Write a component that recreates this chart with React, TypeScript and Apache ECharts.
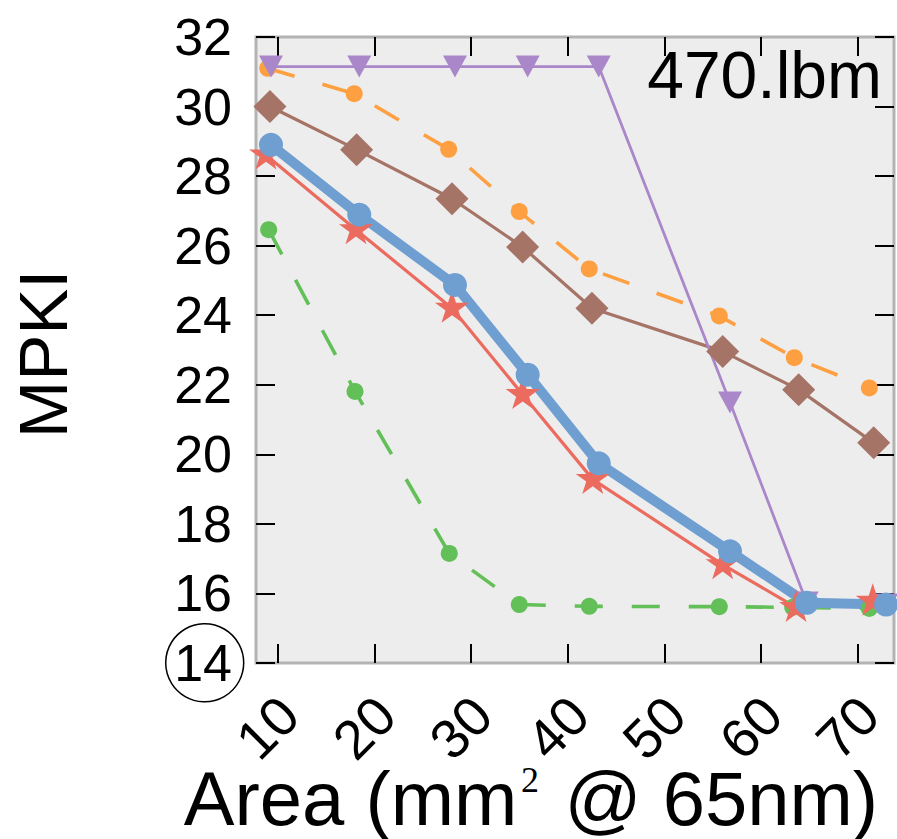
import React, { useEffect, useRef } from "react";
import * as echarts from "echarts";

// ---- data ----
const xTickValues = [10, 20, 30, 40, 50, 60, 70];
const yMin = 14;
const yMax = 32;

const purpleX = [9.31, 18.44, 28.34, 35.86, 43.21, 56.79, 64.72, 72.93];
const purpleY = [31.15, 31.15, 31.15, 31.15, 31.15, 21.49, 15.74, 15.68];

const blueX = [9.31, 18.44, 28.34, 35.86, 43.21, 56.79, 64.72, 72.93];
const blueY = [28.9, 26.89, 24.87, 22.29, 19.74, 17.21, 15.73, 15.68];

const redX = [8.79, 18.1, 28.03, 35.34, 42.59, 56.03, 63.62, 71.55];
const redY = [28.61, 26.46, 24.2, 21.72, 19.28, 16.83, 15.6, 15.78];

const brownX = [9.2, 18.17, 28.03, 35.34, 42.51, 56.03, 63.89, 71.65];
const brownY = [30.0, 28.76, 27.35, 25.96, 24.2, 22.96, 21.86, 20.33];

const orangeX = [8.97, 17.92, 27.69, 34.99, 42.23, 55.68, 63.44, 71.2];
const orangeY = [31.1, 30.37, 28.77, 26.98, 25.33, 23.98, 22.78, 21.91];

const greenX = [9.07, 18.0, 27.75, 34.99, 42.23, 55.68, 63.27, 71.2];
const greenY = [26.46, 21.81, 17.15, 15.68, 15.63, 15.62, 15.6, 15.57];

const benchmarkLabel = "470.lbm";
const yTitle = "MPKI";
const xTitleBefore = "Area (mm";
const xTitleSup = "2";
const xTitleAfter = " @ 65nm)";

// ---- helpers ----
const zip = (xs: number[], ys: number[]) => xs.map((x, i) => [x, ys[i]]);

function starPath(): string {
  const R = 50;
  const r = R * 0.381966;
  const pts: string[] = [];
  for (let k = 0; k < 10; k++) {
    const rad = k % 2 === 0 ? R : r;
    const a = -Math.PI / 2 + (k * Math.PI) / 5;
    const x = 60 + rad * Math.cos(a);
    const y = 60 + rad * Math.sin(a);
    pts.push(`${k === 0 ? "M" : "L"}${x.toFixed(3)} ${y.toFixed(3)}`);
  }
  return "path://" + pts.join(" ") + " Z";
}

const FONT = "'Liberation Sans', Arial, Helvetica, sans-serif";
const SERIF = "'Liberation Serif', 'DejaVu Serif', serif";
const X_MIN = 7.76;
const X_MAX = 73.75;
const LABEL_SHIFT = 1.19; // rotated labels sit a little right of their ticks
const DASH = [28, 29];

export default function App() {
  const ref = useRef<HTMLDivElement>(null);

  useEffect(() => {
    if (!ref.current) return;
    const chart = echarts.init(ref.current, null, { renderer: "svg" });

    const tickStyle = { color: "#000", width: 2 };

    const option: any = {
      animation: false,
      backgroundColor: "#ffffff",
      grid: {
        left: 256,
        top: 37,
        width: 638,
        height: 626,
        show: true,
        backgroundColor: "#ededed",
        borderColor: "#b3b3b3",
        borderWidth: 3,
      },
      xAxis: [
        {
          type: "value",
          position: "bottom",
          min: X_MIN,
          max: X_MAX,
          splitLine: { show: false },
          axisLine: { show: false },
          axisTick: {
            show: true,
            inside: true,
            length: 19,
            lineStyle: tickStyle,
            customValues: xTickValues,
          },
          axisLabel: { show: false },
        },
        {
          type: "value",
          position: "top",
          min: X_MIN,
          max: X_MAX,
          splitLine: { show: false },
          axisLine: { show: false },
          axisTick: {
            show: true,
            inside: true,
            length: 19,
            lineStyle: tickStyle,
            customValues: xTickValues,
          },
          axisLabel: { show: false },
        },
        {
          type: "value",
          position: "bottom",
          offset: 0,
          min: X_MIN - LABEL_SHIFT,
          max: X_MAX - LABEL_SHIFT,
          splitLine: { show: false },
          axisLine: { show: false },
          axisTick: { show: false },
          axisLabel: {
            show: true,
            customValues: xTickValues,
            rotate: 45,
            margin: 43,
            fontSize: 55,
            fontFamily: FONT,
            color: "#000",
          },
        },
      ],
      yAxis: [
        {
          type: "value",
          position: "left",
          min: yMin,
          max: yMax,
          interval: 2,
          splitLine: { show: false },
          axisLine: { show: false },
          axisTick: { show: true, inside: true, length: 19, lineStyle: tickStyle },
          axisLabel: {
            show: true,
            margin: 24,
            padding: [0, 0, 8, 0],
            fontSize: 52,
            fontFamily: FONT,
            color: "#000",
          },
        },
        {
          type: "value",
          position: "right",
          min: yMin,
          max: yMax,
          interval: 2,
          splitLine: { show: false },
          axisLine: { show: false },
          axisTick: { show: true, inside: true, length: 19, lineStyle: tickStyle },
          axisLabel: { show: false },
        },
      ],
      series: [
        {
          name: "green",
          type: "line",
          data: zip(greenX, greenY),
          symbol: "circle",
          symbolSize: 17,
          showAllSymbol: true,
          lineStyle: { color: "#63bf58", width: 3.6, type: DASH },
          itemStyle: { color: "#63bf58" },
        },
        {
          name: "orange",
          type: "line",
          data: zip(orangeX, orangeY),
          symbol: "circle",
          symbolSize: 17,
          showAllSymbol: true,
          lineStyle: { color: "#fe9f42", width: 3.6, type: DASH },
          itemStyle: { color: "#fe9f42" },
        },
        {
          name: "brown",
          type: "line",
          data: zip(brownX, brownY),
          symbol: "diamond",
          symbolSize: [33, 33],
          showAllSymbol: true,
          lineStyle: { color: "#a57467", width: 3.2 },
          itemStyle: { color: "#a57467" },
        },
        {
          name: "purple",
          type: "line",
          data: zip(purpleX, purpleY),
          symbol: "triangle",
          symbolRotate: 180,
          symbolSize: [24, 22],
          showAllSymbol: true,
          lineStyle: { color: "#a987c8", width: 2.8 },
          itemStyle: { color: "#a987c8" },
        },
        {
          name: "red",
          type: "line",
          data: zip(redX, redY),
          symbol: starPath(),
          symbolSize: [34, 32.3],
          symbolOffset: [0, -1.6],
          showAllSymbol: true,
          lineStyle: { color: "#ec6b5f", width: 3.2 },
          itemStyle: { color: "#ec6b5f" },
        },
        {
          name: "blue",
          type: "line",
          data: zip(blueX, blueY),
          symbol: "circle",
          symbolSize: 24,
          showAllSymbol: true,
          lineStyle: { color: "#6f9ed0", width: 10 },
          itemStyle: { color: "#6f9ed0" },
        },
      ],
      graphic: [
        {
          type: "text",
          x: 882,
          y: 75,
          z: 100,
          style: {
            text: benchmarkLabel,
            fontSize: 66,
            fontFamily: FONT,
            fill: "#000",
            align: "right",
            verticalAlign: "middle",
          },
        },
        {
          type: "text",
          x: 43,
          y: 354,
          rotation: Math.PI / 2,
          style: {
            text: yTitle,
            fontSize: 69,
            fontFamily: FONT,
            fill: "#000",
            align: "center",
            verticalAlign: "middle",
          },
        },
        {
          type: "text",
          x: 531,
          y: 798,
          style: {
            text: `{a|${xTitleBefore}}{s| }{a|${xTitleAfter}}`,
            fontFamily: FONT,
            fill: "#000",
            align: "center",
            verticalAlign: "middle",
            rich: {
              a: { fontSize: 76, fontFamily: FONT, fill: "#000", lineHeight: 70 },
              s: { fontSize: 20, width: 26, lineHeight: 70 },
            },
          },
        },
        {
          type: "text",
          x: 530,
          y: 780,
          style: {
            text: xTitleSup,
            fontSize: 36,
            fontFamily: SERIF,
            fill: "#000",
            align: "center",
            verticalAlign: "middle",
          },
        },
        {
          type: "circle",
          shape: { cx: 204.7, cy: 662.8, r: 39 },
          style: { fill: "none", stroke: "#000", lineWidth: 1.5 },
          z: 100,
        },
      ],
    };

    chart.setOption(option);
    return () => chart.dispose();
  }, []);

  return (
    <div
      ref={ref}
      style={{ position: "fixed", left: 0, top: 0, width: 897, height: 839 }}
    />
  );
}
